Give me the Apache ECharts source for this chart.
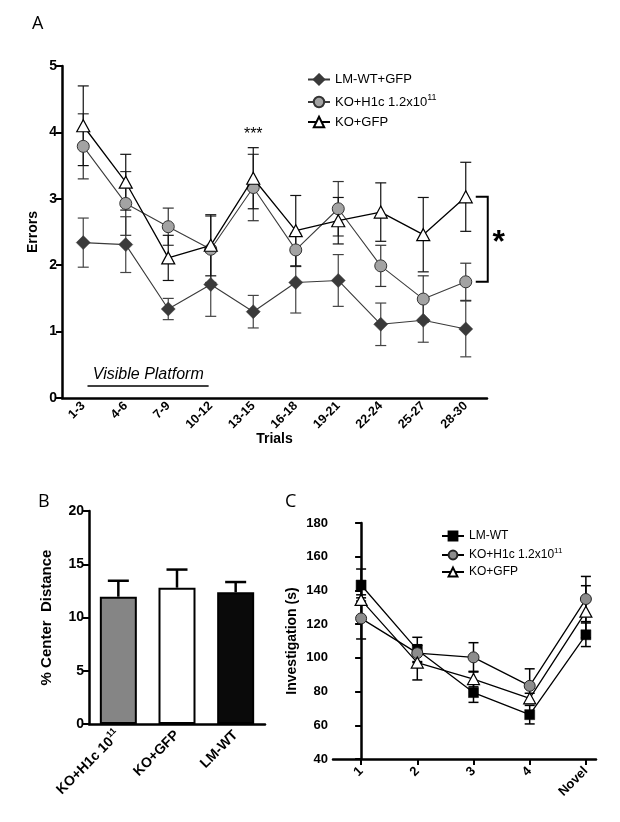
<!DOCTYPE html>
<html>
<head>
<meta charset="utf-8">
<script src="https://cdn.jsdelivr.net/npm/echarts@6/dist/echarts.min.js"></script>
<style>
html,body{margin:0;padding:0;background:#fff;}
#chart{width:620px;height:822px;}
</style>
</head>
<body>
<div id="chart"></div>
<script>
// ---------- Panel A data ----------
const trialsA = ['1-3','4-6','7-9','10-12','13-15','16-18','19-21','22-24','25-27','28-30'];
const yTicksA = [0,1,2,3,4,5];
const lmwtA    = [2.34,2.31,1.34,1.71,1.30,1.74,1.77,1.11,1.17,1.04];
const lmwtAErr = [0.37,0.42,0.16,0.48,0.245,0.46,0.39,0.32,0.33,0.42];
const h1cA     = [3.79,2.93,2.58,2.24,3.17,2.23,2.85,1.99,1.49,1.75];
const h1cAErr  = [0.49,0.48,0.28,0.50,0.50,0.25,0.41,0.31,0.35,0.28];
const gfpA     = [4.10,3.25,2.11,2.30,3.31,2.52,2.67,2.80,2.46,3.03];
const gfpAErr  = [0.60,0.42,0.34,0.46,0.46,0.53,0.35,0.44,0.56,0.52];

// ---------- Panel B data ----------
const groupsB = ['KO+H1c 10^11','KO+GFP','LM-WT'];
const valuesB = [11.95,12.8,12.37];
const errB    = [1.5,1.7,0.96];
const yTicksB = [0,5,10,15,20];

// ---------- Panel C data ----------
const daysC = ['1','2','3','4','Novel'];
const yTicksC = [40,60,80,100,120,140,160,180];
const lmwtC    = [143.2,104.7,79.4,66.3,113.7];
const lmwtCErr = [9.5,7.5,5.8,5.5,7.0];
const h1cC     = [123.4,102.8,100.3,83.4,134.9];
const h1cCErr  = [12.2,5.0,8.7,10.1,13.4];
const gfpC     = [134.4,97.2,87.4,76.0,127.4];
const gfpCErr  = [3.0,10.3,4.6,3.0,15.4];

const FONT = 'Liberation Sans, Arial, sans-serif';
const chart = echarts.init(document.getElementById('chart'), null, {renderer:'canvas'});

function pairs(vals){ return vals.map((v,i)=>[i,v]); }
function triples(vals, errs){ return vals.map((v,i)=>[i,v,errs[i]]); }

function errSeries(ax, vals, errs, color, capW, lw, upOnly){
  return {
    type:'custom', xAxisIndex:ax, yAxisIndex:ax, z:1, silent:true,
    data: triples(vals, errs),
    renderItem:(params, api)=>{
      const x=api.value(0), m=api.value(1), e=api.value(2);
      const top=api.coord([x,m+e]);
      const bot=api.coord([x, upOnly ? m : m-e]);
      const st={stroke:color, lineWidth:lw};
      const ch=[
        {type:'line', shape:{x1:top[0],y1:top[1],x2:bot[0],y2:bot[1]}, style:st},
        {type:'line', shape:{x1:top[0]-capW/2,y1:top[1],x2:top[0]+capW/2,y2:top[1]}, style:st}
      ];
      if(!upOnly) ch.push({type:'line', shape:{x1:bot[0]-capW/2,y1:bot[1],x2:bot[0]+capW/2,y2:bot[1]}, style:st});
      return {type:'group', children:ch};
    }
  };
}

function legendFmt(name){
  const n=name.trim();
  if(n.indexOf('^')>=0){ const p=n.split('^'); return '{a|'+p[0]+'}{s|'+p[1]+'}'; }
  return '{a|'+n+'}';
}

const axisLineStyle = {color:'#000', width:2.5};
const tickStyle = {color:'#000', width:2};

const option = {
  animation:false,
  backgroundColor:'#fff',
  textStyle:{fontFamily:FONT},
  title:[
    {text:'A', left:27, top:10, textStyle:{fontFamily:'Open Sans', fontWeight:'normal', fontSize:18, color:'#000'}},
    {text:'B', left:33, top:488, textStyle:{fontFamily:'Open Sans', fontWeight:'normal', fontSize:18, color:'#000'}},
    {text:'C', left:280, top:488, textStyle:{fontFamily:'Open Sans', fontWeight:'normal', fontSize:18, color:'#000'}}
  ],
  legend:[
    {
      orient:'vertical', left:302, top:68, itemGap:7, itemWidth:22, itemHeight:13,
      data:['LM-WT+GFP','KO+H1c 1.2x10^11','KO+GFP'],
      formatter:legendFmt,
      textStyle:{fontFamily:FONT, fontSize:13, color:'#000', rich:{
        a:{fontFamily:FONT, fontSize:13, color:'#000'},
        s:{fontFamily:FONT, fontSize:9, color:'#000', padding:[0,0,9,0]}
      }},
      selectedMode:false
    },
    {
      orient:'vertical', left:436, top:525, itemGap:5, itemWidth:22, itemHeight:11,
      data:['LM-WT','KO+H1c 1.2x10^11 ','KO+GFP '],
      formatter:legendFmt,
      textStyle:{fontFamily:FONT, fontSize:12, color:'#000', rich:{
        a:{fontFamily:FONT, fontSize:12, color:'#000'},
        s:{fontFamily:FONT, fontSize:8, color:'#000', padding:[0,0,8,0]}
      }},
      selectedMode:false
    }
  ],
  grid:[
    {left:62, top:66, width:425, height:332},
    {left:89, top:511, width:176, height:213},
    {left:333, top:523, width:263, height:236}
  ],
  xAxis:[
    {
      type:'category', gridIndex:0, data:trialsA, boundaryGap:true,
      axisLine:{lineStyle:axisLineStyle},
      axisTick:{alignWithLabel:true, length:6, lineStyle:tickStyle},
      axisLabel:{rotate:45, fontWeight:'bold', fontSize:12.5, color:'#000', margin:6, interval:0, fontFamily:FONT},
      name:'Trials', nameLocation:'middle', nameGap:34, nameMoveOverlap:false,
      nameTextStyle:{fontWeight:'bold', fontSize:14, color:'#000', fontFamily:FONT}
    },
    {
      type:'category', gridIndex:1, data:groupsB, boundaryGap:true,
      axisLine:{lineStyle:axisLineStyle},
      axisTick:{alignWithLabel:true, length:6, lineStyle:tickStyle},
      axisLabel:{rotate:45, fontWeight:'bold', fontSize:14, color:'#000', margin:9, interval:0, fontFamily:FONT,
        formatter:(v)=>{ if(v.indexOf('^')>=0){const p=v.split('^'); return '{a|'+p[0]+'}{s|'+p[1]+'}';} return '{a|'+v+'}'; },
        rich:{a:{fontWeight:'bold', fontSize:14, color:'#000', fontFamily:FONT}, s:{fontWeight:'bold', fontSize:9, color:'#000', fontFamily:FONT, padding:[0,0,10,0]}}
      }
    },
    {
      type:'value', gridIndex:2, min:-0.5, max:4.18,
      axisLine:{lineStyle:axisLineStyle},
      splitLine:{show:false},
      axisTick:{length:6, lineStyle:tickStyle, customValues:[0,1,2,3,4]},
      axisLabel:{rotate:45, fontWeight:'bold', fontSize:13, color:'#000', margin:10, fontFamily:FONT,
        customValues:[0,1,2,3,4], formatter:(v)=>daysC[Math.round(v)] || ''}
    }
  ],
  yAxis:[
    {
      type:'value', gridIndex:0, min:yTicksA[0], max:yTicksA[yTicksA.length-1], interval:1,
      axisLine:{show:true, lineStyle:axisLineStyle},
      axisTick:{show:true, length:6, lineStyle:tickStyle},
      splitLine:{show:false},
      axisLabel:{fontWeight:'bold', fontSize:14, color:'#000', margin:5, fontFamily:FONT},
      name:'Errors', nameLocation:'middle', nameGap:22, nameMoveOverlap:false,
      nameTextStyle:{fontWeight:'bold', fontSize:14, color:'#000', fontFamily:FONT}
    },
    {
      type:'value', gridIndex:1, min:yTicksB[0], max:yTicksB[yTicksB.length-1], interval:5,
      axisLine:{show:true, lineStyle:axisLineStyle},
      axisTick:{show:true, length:6, lineStyle:tickStyle},
      splitLine:{show:false},
      axisLabel:{fontWeight:'bold', fontSize:14, color:'#000', margin:5, fontFamily:FONT},
      name:'% Center  Distance', nameLocation:'middle', nameGap:35, nameMoveOverlap:false,
      nameTextStyle:{fontWeight:'bold', fontSize:15, color:'#000', fontFamily:FONT}
    },
    {
      type:'value', gridIndex:2, min:yTicksC[0], max:yTicksC[yTicksC.length-1], interval:20,
      axisLine:{show:true, lineStyle:axisLineStyle},
      axisTick:{show:true, length:6, lineStyle:tickStyle},
      splitLine:{show:false},
      axisLabel:{fontWeight:'bold', fontSize:13, color:'#000', margin:5, fontFamily:FONT},
      name:'Investigation (s)', nameLocation:'middle', nameGap:34, nameMoveOverlap:false,
      nameTextStyle:{fontWeight:'bold', fontSize:14, color:'#000', fontFamily:FONT}
    }
  ],
  series:[
    // Panel A
    errSeries(0, lmwtA, lmwtAErr, '#444', 11, 1.2, false),
    errSeries(0, h1cA, h1cAErr, '#333', 11, 1.2, false),
    errSeries(0, gfpA, gfpAErr, '#111', 11, 1.2, false),
    {name:'LM-WT+GFP', type:'line', xAxisIndex:0, yAxisIndex:0, data:pairs(lmwtA), z:3,
      symbol:'diamond', symbolSize:[14,14], lineStyle:{color:'#3a3a3a', width:1.1},
      itemStyle:{color:'#3a3a3a', borderColor:'#3a3a3a', borderWidth:0.5}},
    {name:'KO+H1c 1.2x10^11', type:'line', xAxisIndex:0, yAxisIndex:0, data:pairs(h1cA), z:4,
      symbol:'circle', symbolSize:12, lineStyle:{color:'#3c3c3c', width:1.1},
      itemStyle:{color:'#a3a3a3', borderColor:'#333', borderWidth:1}},
    {name:'KO+GFP', type:'line', xAxisIndex:0, yAxisIndex:0, data:pairs(gfpA), z:5,
      symbol:'triangle', symbolSize:[13,12], lineStyle:{color:'#000', width:1.3},
      itemStyle:{color:'#fff', borderColor:'#000', borderWidth:1.2}},
    // Panel B
    {type:'bar', xAxisIndex:1, yAxisIndex:1, barWidth:37, z:3,
      data:valuesB.map((v,i)=>({value:v, itemStyle:{color:['#858585','#ffffff','#0a0a0a'][i], borderColor:'#000', borderWidth:2}}))},
    errSeries(1, valuesB, errB, '#000', 21, 2.5, true),
    // Panel C
    errSeries(2, lmwtC, lmwtCErr, '#000', 10, 1.5, false),
    errSeries(2, h1cC, h1cCErr, '#000', 10, 1.5, false),
    errSeries(2, gfpC, gfpCErr, '#000', 10, 1.5, false),
    {name:'LM-WT', type:'line', xAxisIndex:2, yAxisIndex:2, data:pairs(lmwtC), z:3,
      symbol:'rect', symbolSize:10, lineStyle:{color:'#000', width:1.3},
      itemStyle:{color:'#000', borderColor:'#000', borderWidth:0.5}},
    {name:'KO+H1c 1.2x10^11 ', type:'line', xAxisIndex:2, yAxisIndex:2, data:pairs(h1cC), z:4,
      symbol:'circle', symbolSize:11, lineStyle:{color:'#000', width:1.3},
      itemStyle:{color:'#8c8c8c', borderColor:'#222', borderWidth:1}},
    {name:'KO+GFP ', type:'line', xAxisIndex:2, yAxisIndex:2, data:pairs(gfpC), z:5,
      symbol:'triangle', symbolSize:[12,11], lineStyle:{color:'#000', width:1.3},
      itemStyle:{color:'#fff', borderColor:'#000', borderWidth:1.2}}
  ]
};
chart.setOption(option);

// ---------- annotations positioned through the axes ----------
const P = (x,y)=>chart.convertToPixel({gridIndex:0},[x,y]);
const p0 = P(0,0), p1 = P(1,0);
const step = p1[0]-p0[0];
const X = (i)=>p0[0]+i*step;          // fractional category position
const Y = (v)=>P(0,v)[1];
const last = trialsA.length-1;
const xLast = X(last);
const yTop = Y(gfpA[last]), yBot = Y(h1cA[last]);
const bx0 = xLast+10, bx1 = xLast+22;
chart.setOption({
  graphic:[
    {type:'text', x:X(4), y:Y(3.97), style:{text:'***', fontSize:16, fontFamily:FONT, fill:'#000', align:'center', verticalAlign:'middle'}},
    {type:'polyline', shape:{points:[[bx0,yTop],[bx1,yTop],[bx1,yBot],[bx0,yBot]]}, style:{stroke:'#000', lineWidth:2, fill:null}},
    {type:'text', x:bx1+11, y:(yTop+yBot)/2+4, style:{text:'*', fontSize:32, fontWeight:'bold', fontFamily:FONT, fill:'#000', align:'center', verticalAlign:'middle'}},
    {type:'text', x:X(1.53), y:Y(0.35), style:{text:'Visible Platform', fontSize:16, fontStyle:'italic', fontFamily:FONT, fill:'#000', align:'center', verticalAlign:'middle'}},
    {type:'line', shape:{x1:X(0.1), y1:Y(0.18), x2:X(2.95), y2:Y(0.18)}, style:{stroke:'#000', lineWidth:1.5}}
  ]
});
</script>
</body>
</html>
